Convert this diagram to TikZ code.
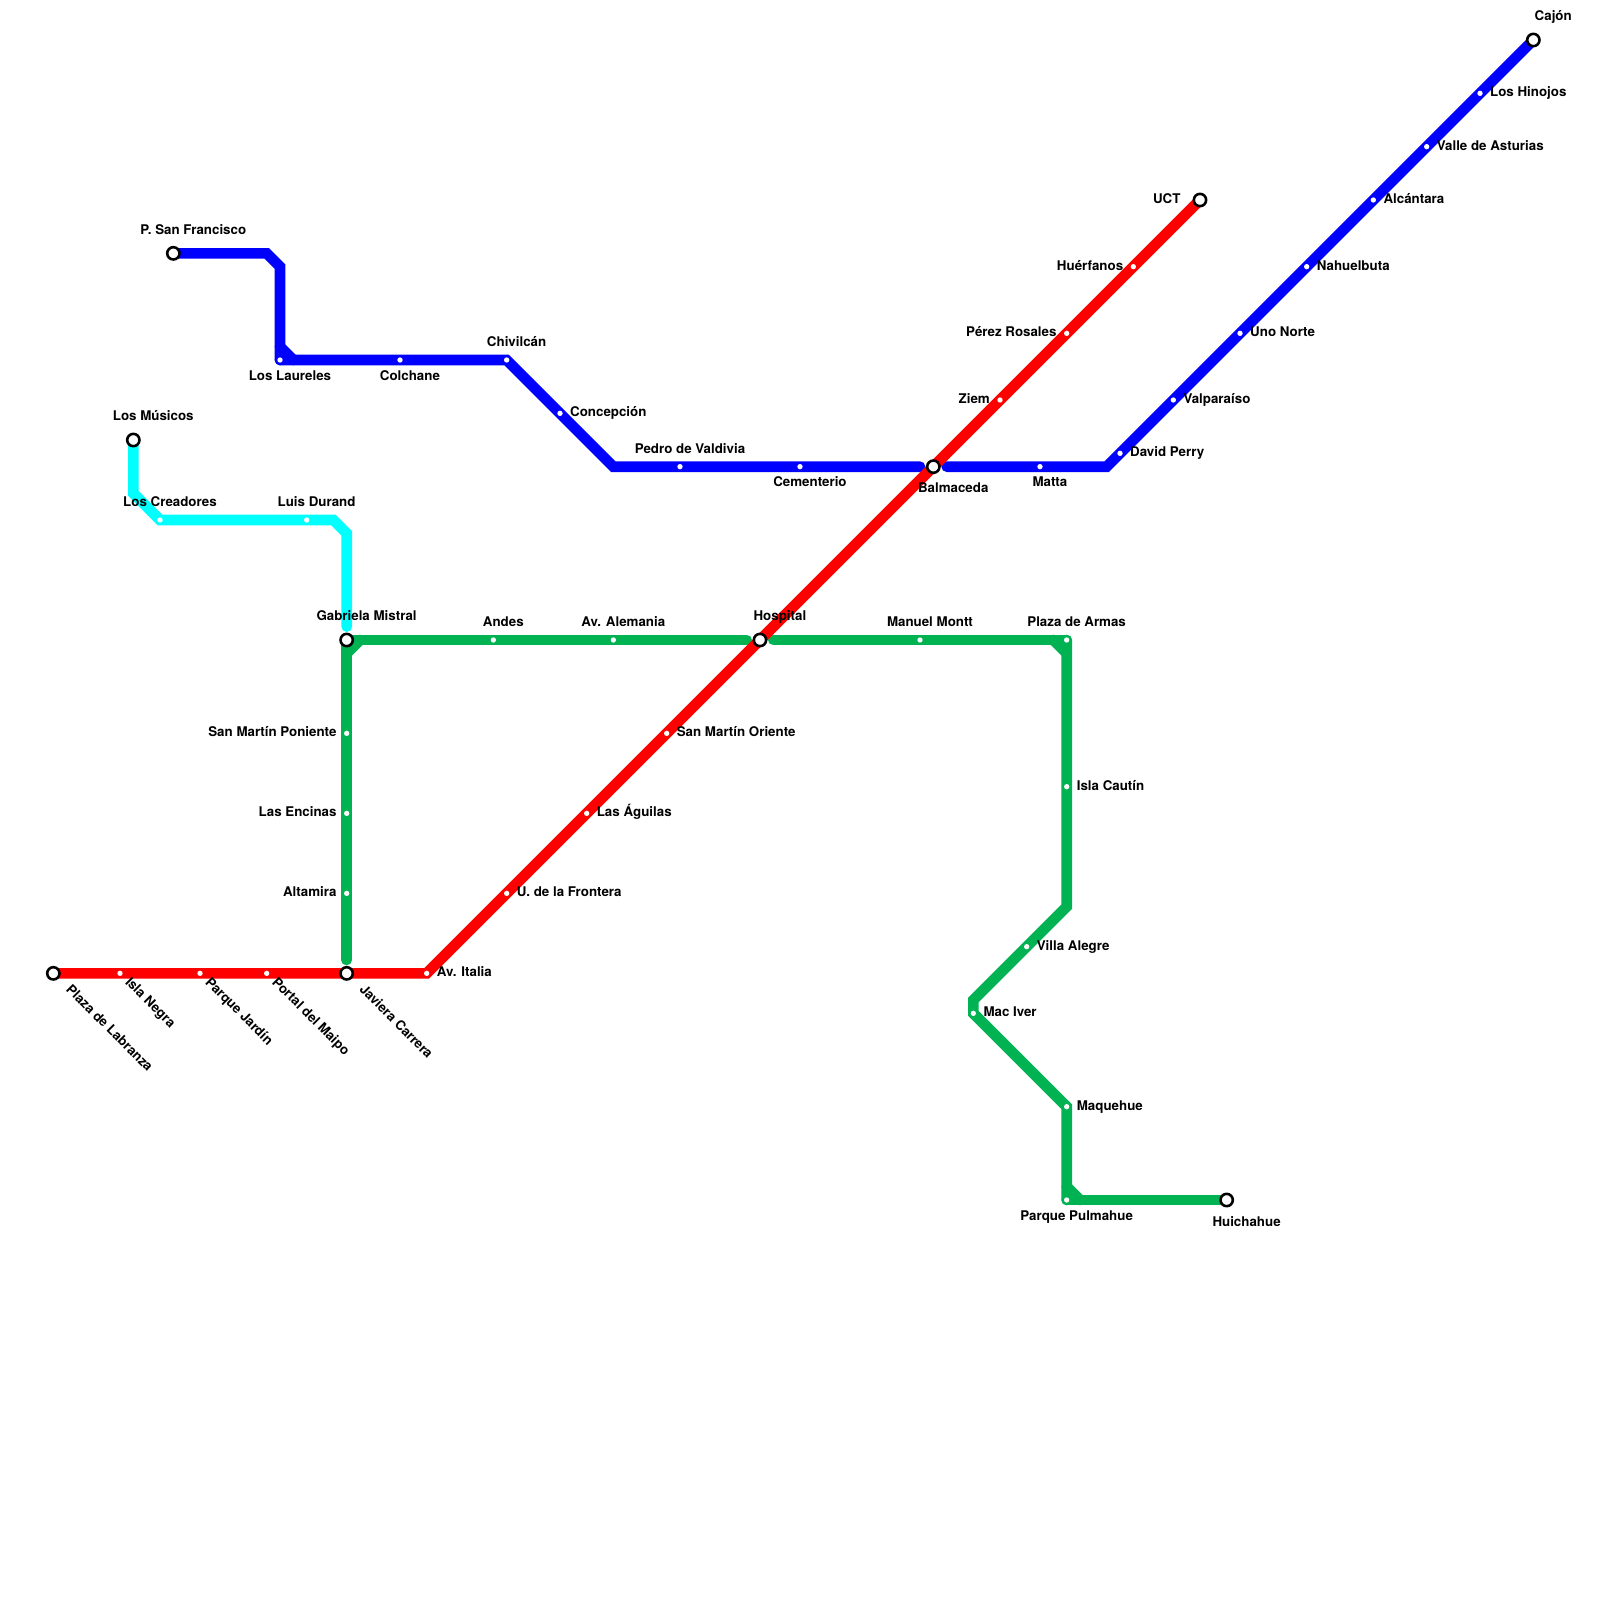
\documentclass[tikz,border=0pt]{standalone}
\usepackage{fontspec}
\setmainfont{TeX Gyre Heros}
\usetikzlibrary{backgrounds}
\definecolor{green}{HTML}{00B251}
\definecolor{red}{HTML}{FF0000}
\definecolor{blue}{HTML}{0000FF}
\definecolor{cyan}{HTML}{00FFFF}
\tikzstyle{stop} = [circle, fill=white, minimum size=4.55pt, inner sep=0pt, outer sep=6.2pt]
\tikzstyle{term} = [circle, draw=black, fill=white, line width=2.2pt, minimum size=10.5pt, inner sep=0pt, outer sep=8.2pt]
\tikzstyle{caption} = [font=\bfseries\fontsize{11.38}{13}\selectfont, text height=0.86em, text depth=0.26em, inner sep=0pt]
\tikzstyle{route} = [line width=9.1pt, line cap=round]
\tikzstyle{nudge} = [xshift=8.5pt]
\tikzstyle{nudgeterm} = [xshift=17pt]
\tikzstyle{slant} = [rotate=-45, anchor=west]
\tikzstyle{slantterm} = [slant, xshift=4pt]

\begin{document}
\begin{tikzpicture}[x=0.4cm, y=-0.4cm, every label/.style={caption}]
	\useasboundingbox (0,0) rectangle (120,120);
	% red line
	\node[term, label={[slantterm]-45:Plaza de Labranza}] (labranza) at (4,73) {};
	\node[stop, label={[slant]-45:Isla Negra}] (islanegra) at (9,73) {};
	\node[stop, label={[slant]-45:Parque Jardín}] (parquejardin) at (15,73) {};
	\node[stop, label={[slant]-45:Portal del Maipo}] (portal) at (20,73) {};
	\node[term, label={[slantterm]-45:Javiera Carrera}] (javiera) at (26,73) {};
	\node[stop, label=right:{Av. Italia}] (italia) at (32,73) {};
	\node[stop, label=right:{U. de la Frontera}] (frontera) at (38,67) {};
	\node[stop, label=right:{Las Águilas}] (aguilas) at (44,61) {};
	\node[stop, label=right:{San Martín Oriente}] (smoriente) at (50,55) {};
	\node[term, label={[nudgeterm]above:Hospital}] (hospital) at (57,48) {};
	\node[term, label={[nudgeterm]below:Balmaceda}] (balmaceda) at (70,35) {};
	\node[stop, label=left:{Ziem}] (ziem) at (75,30) {};
	\node[stop, label=left:{Pérez Rosales}] (perez) at (80,25) {};
	\node[stop, label=left:{Huérfanos}] (huerfanos) at (85,20) {};
	\node[term, label={[xshift=-3pt]left:UCT}] (uct) at (90,15) {};
	% blue line
	\node[term, label={[nudgeterm]above:P. San Francisco}] (sanfrancisco) at (13,19) {};
	\node[stop, label={[nudge]below:Los Laureles}] (laureles) at (21,27) {};
	\node[stop, label={[nudge]below:Colchane}] (colchane) at (30,27) {};
	\node[stop, label={[nudge]above:Chivilcán}] (chivilcan) at (38,27) {};
	\node[stop, label=right:{Concepción}] (concepcion) at (42,31) {};
	\node[stop, label={[nudge]above:Pedro de Valdivia}] (valdivia) at (51,35) {};
	\node[stop, label={[nudge]below:Cementerio}] (cementerio) at (60,35) {};
	\node[stop, label={[nudge]below:Matta}] (matta) at (78,35) {};
	\node[stop, label=right:{David Perry}] (perry) at (84,34) {};
	\node[stop, label=right:{Valparaíso}] (valparaiso) at (88,30) {};
	\node[stop, label=right:{Uno Norte}] (unonorte) at (93,25) {};
	\node[stop, label=right:{Nahuelbuta}] (nahuelbuta) at (98,20) {};
	\node[stop, label=right:{Alcántara}] (alcantara) at (103,15) {};
	\node[stop, label=right:{Valle de Asturias}] (asturias) at (107,11) {};
	\node[stop, label=right:{Los Hinojos}] (hinojos) at (111,7) {};
	\node[term, label={[nudgeterm]above:Cajón}] (cajon) at (115,3) {};
	% cyan line
	\node[term, label={[nudgeterm]above:Los Músicos}] (musicos) at (10,33) {};
	\node[stop, label={[nudge]above:Los Creadores}] (creadores) at (12,39) {};
	\node[stop, label={[nudge]above:Luis Durand}] (durand) at (23,39) {};
	% green line
	\node[term, label={[nudgeterm]above:Gabriela Mistral}] (gabriela) at (26,48) {};
	\node[stop, label={[nudge]above:Andes}] (andes) at (37,48) {};
	\node[stop, label={[nudge]above:Av. Alemania}] (alemania) at (46,48) {};
	\node[stop, label={[nudge]above:Manuel Montt}] (montt) at (69,48) {};
	\node[stop, label={[nudge]above:Plaza de Armas}] (armas) at (80,48) {};
	\node[stop, label=right:{Isla Cautín}] (cautin) at (80,59) {};
	\node[stop, label=right:{Villa Alegre}] (villa) at (77,71) {};
	\node[stop, label=right:{Mac Iver}] (maciver) at (73,76) {};
	\node[stop, label=right:{Maquehue}] (maquehue) at (80,83) {};
	\node[stop, label={[nudge]below:Parque Pulmahue}] (pulmahue) at (80,90) {};
	\node[term, label={[nudgeterm]below:Huichahue}] (huichahue) at (92,90) {};
	\node[stop, label=left:{San Martín Poniente}] (smponiente) at (26,55) {};
	\node[stop, label=left:{Las Encinas}] (encinas) at (26,61) {};
	\node[stop, label=left:{Altamira}] (altamira) at (26,67) {};
	% bends
	\coordinate (blueA) at (20,19);
	\coordinate (blueB) at (21,20);
	\coordinate (blueC) at (21,26);
	\coordinate (blueD) at (22,27);
	\coordinate (blueE) at (46,35);
	\coordinate (blueF) at (69,35);
	\coordinate (blueG) at (71,35);
	\coordinate (blueH) at (83,35);
	\coordinate (cyanA) at (10,37);
	\coordinate (cyanB) at (25,39);
	\coordinate (cyanC) at (26,40);
	\coordinate (cyanD) at (26,47);
	\coordinate (greenA) at (27,48);
	\coordinate (greenB) at (26,49);
	\coordinate (greenC) at (26,72);
	\coordinate (greenD) at (56,48);
	\coordinate (greenE) at (58,48);
	\coordinate (greenF) at (79,48);
	\coordinate (greenG) at (80,49);
	\coordinate (greenH) at (80,68);
	\coordinate (greenI) at (73,75);
	\coordinate (greenJ) at (80,89);
	\coordinate (greenK) at (81,90);
	\begin{pgfonlayer}{background}
		\draw[route, cyan] (musicos.center) -- (cyanA) -- (creadores.center) -- (durand.center) -- (cyanB) -- (cyanC) -- (cyanD);
		\draw[route, green] (greenD) -- (gabriela.center) -- (greenC);
		\draw[route, green] (greenA) -- (greenB);
		\draw[route, green] (greenE) -- (armas.center);
		\draw[route, green] (armas.center) -- (cautin.center) -- (greenH) -- (villa.center) -- (greenI) -- (maciver.center) -- (maquehue.center) -- (greenJ) -- (pulmahue.center);
		\draw[route, green] (greenF) -- (greenG);
		\draw[route, green] (pulmahue.center) -- (huichahue.center);
		\draw[route, green] (greenJ) -- (greenK);
		\draw[route, blue] (sanfrancisco.center) -- (blueA) -- (blueB) -- (laureles.center);
		\draw[route, blue] (blueC) -- (blueD);
		\draw[route, blue] (laureles.center) -- (chivilcan.center) -- (blueE) -- (blueF);
		\draw[route, blue] (blueG) -- (blueH) -- (cajon.center);
		\draw[route, red] (labranza.center) -- (italia.center) -- (uct.center);
	\end{pgfonlayer}
\end{tikzpicture}
\end{document}
